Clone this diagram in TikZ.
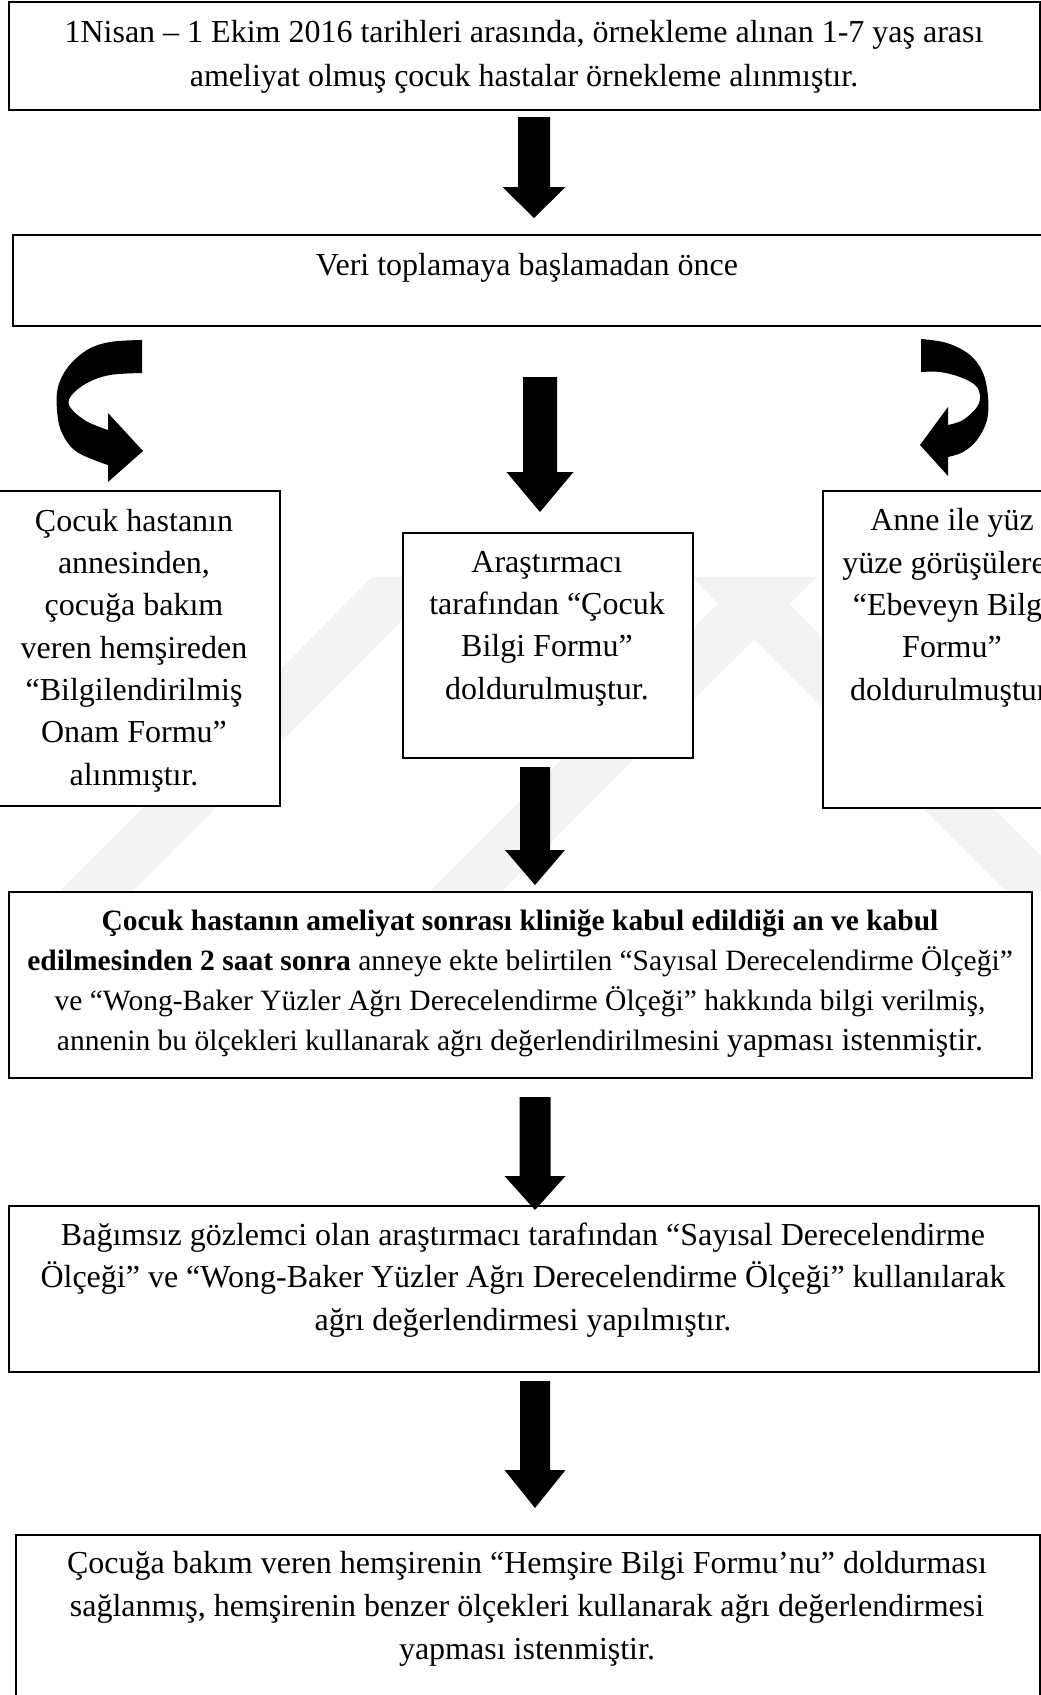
\documentclass[tikz,border=0pt]{standalone}
\usepackage{fontspec}
\setmainfont{Liberation Serif}
\definecolor{wm}{RGB}{243,243,243}
\newcommand\blockarr[6]{% cx, top, headstart, tip, shafthalf, headhalf
  \fill[black] (#1-#5,#2) -- (#1+#5,#2) -- (#1+#5,#3) -- (#1+#6,#3) -- (#1,#4)
    -- (#1-#6,#3) -- (#1-#5,#3) -- cycle;}
\begin{document}
\begin{tikzpicture}[x=1pt,y=-1pt,
  box/.style={draw=black, fill=white, line width=1.6pt, inner sep=0pt, anchor=north west},
  txt/.style={align=center, inner sep=0pt, anchor=base, font=\fontsize{32}{42.3}\selectfont}]
\useasboundingbox (0,0) rectangle (1041,1695);
\clip (0,0) rectangle (1041,1695);
\fill[white] (0,0) rectangle (1041,1695);
% faint watermark
\fill[wm] (372,577) -- (445,577) -- (133,891) -- (60,891) -- cycle;
\fill[wm] (745,577) -- (817,577) -- (502,891) -- (430,891) -- cycle;
\fill[wm] (692,577) -- (762,577) -- (1076,891) -- (1006,891) -- cycle;
% boxes
\node[box, minimum width=1031pt, minimum height=108pt] (b1) at (8,1) {};
\node[box, minimum width=1040pt, minimum height=91pt] (b2) at (12,234) {};
\node[box, minimum width=290pt, minimum height=315pt] (bl) at (-11,490) {};
\node[box, minimum width=290pt, minimum height=225pt] (bm) at (402,532) {};
\node[box, minimum width=260pt, minimum height=317pt] (br) at (822,490) {};
\node[box, minimum width=1023pt, minimum height=186pt] (b4) at (8,891) {};
\node[box, minimum width=1030pt, minimum height=166pt] (b5) at (8,1205) {};
\node[box, minimum width=1024pt, minimum height=200pt] (b6) at (15,1534) {};
% texts (anchor = baseline of last line)
\node[txt, font=\fontsize{32}{44}\selectfont] (t1) at (524,86)
  {1Nisan – 1 Ekim 2016 tarihleri arasında, örnekleme alınan 1-7 yaş arası\\
   ameliyat olmuş çocuk hastalar örnekleme alınmıştır.};
\node[txt] (t2) at (527,275) {Veri toplamaya başlamadan önce};
\node[txt] (tl) at (134,785) {Çocuk hastanın\\annesinden,\\çocuğa bakım\\veren hemşireden\\“Bilgilendirilmiş\\Onam Formu”\\alınmıştır.};
\node[txt] (tm) at (547,699) {Araştırmacı\\tarafından “Çocuk\\Bilgi Formu”\\doldurulmuştur.};
\node[txt] (tr) at (952,700) {Anne ile yüz\\yüze görüşülerek\\“Ebeveyn Bilgi\\Formu”\\doldurulmuştur.};
\node[txt, font=\fontsize{29.5}{40}\selectfont] (t4) at (520,1050)
  {\textbf{Çocuk hastanın ameliyat sonrası kliniğe kabul edildiği an ve kabul}\\
   \textbf{edilmesinden 2 saat sonra} anneye ekte belirtilen “Sayısal Derecelendirme Ölçeği”\\
   ve “Wong-Baker Yüzler Ağrı Derecelendirme Ölçeği” hakkında bilgi verilmiş,\\
   annenin bu ölçekleri kullanarak ağrı değerlendirilmesini {\fontsize{32}{40}\selectfont yapması istenmiştir.}};
\node[txt, font=\fontsize{32}{42.5}\selectfont] (t5) at (523,1330)
  {Bağımsız gözlemci olan araştırmacı tarafından “Sayısal Derecelendirme\\
   Ölçeği” ve “Wong-Baker Yüzler Ağrı Derecelendirme Ölçeği” kullanılarak\\
   ağrı değerlendirmesi yapılmıştır.};
\node[txt, font=\fontsize{32}{43}\selectfont] (t6) at (527,1659)
  {Çocuğa bakım veren hemşirenin “Hemşire Bilgi Formu’nu” doldurması\\
   sağlanmış, hemşirenin benzer ölçekleri kullanarak ağrı değerlendirmesi\\
   yapması istenmiştir.};
% straight block arrows
\blockarr{534}{117}{187}{218}{16}{31.5}
\blockarr{540}{377}{472}{512}{17}{33.5}
\blockarr{535}{767}{850}{885}{15}{30}
\blockarr{535}{1097}{1176}{1210}{15.5}{30.5}
\blockarr{535}{1381}{1470}{1508}{15}{30.5}
% curved arrows
\fill[black] plot[smooth, tension=0.6] coordinates {(142,340) (110,342) (87,350) (68,367) (58,387) (57,410) (62,433) (77,452) (108,465)}
  -- (108,482) -- (143,451) -- (108,413) -- (108,430)
  -- plot[smooth, tension=0.6] coordinates {(108,430) (86,421) (70,407) (71,396) (87,383) (110,375) (142,373)} -- cycle;
\fill[black] plot[smooth, tension=0.6] coordinates {(921,339) (947,343) (970,355) (983,373) (988,397) (987,420) (977,440) (963,452) (948,457)}
  -- (948,476) -- (920,445) -- (948,407) -- (948,425)
  -- plot[smooth, tension=0.6] coordinates {(948,425) (963,420) (977,407) (980,395) (975,385) (960,377) (940,372) (921,372)} -- cycle;
\end{tikzpicture}
\end{document}
